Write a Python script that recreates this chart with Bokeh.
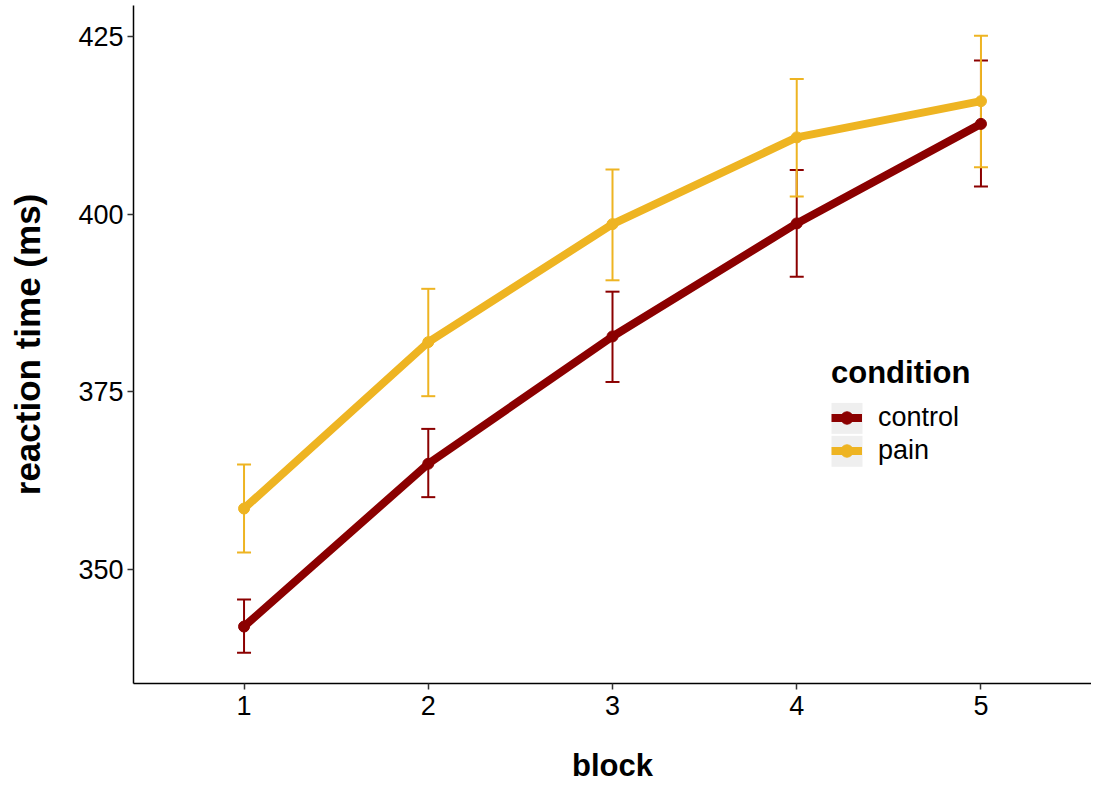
from bokeh.plotting import figure
from bokeh.models import (ColumnDataSource, Whisker, TeeHead, Range1d, FixedTicker,
                          Legend, LegendItem, BoxAnnotation)
from bokeh.embed import file_html
from bokeh.resources import INLINE

# ---- data ----
blocks = [1, 2, 3, 4, 5]
control_mean = [342.0, 364.9, 382.8, 398.7, 412.7]
control_lower = [338.3, 360.2, 376.4, 391.2, 403.9]
control_upper = [345.8, 369.8, 389.1, 406.2, 421.6]
pain_mean = [358.6, 382.0, 398.6, 410.8, 415.9]
pain_lower = [352.4, 374.4, 390.7, 402.5, 406.6]
pain_upper = [364.8, 389.5, 406.3, 419.0, 425.1]
y_ticks = [350, 375, 400, 425]
conditions = ["control", "pain"]

CONTROL_COLOR = "#8B0000"
PAIN_COLOR = "#EEB422"
FONT = "Liberation Sans"

# frame geometry (pixels)
W, H = 1091, 785
BL, BR, BT, BB = 133, 0, 5, 101
X0, X1 = 0.4, 5.6
Y0, Y1 = 333.99, 429.35
fw, fh = W - BL - BR, H - BT - BB


def px_to_x(px):
    return X0 + (px - BL) * (X1 - X0) / fw


def py_to_y(py):
    return Y1 - (py - BT) * (Y1 - Y0) / fh


p = figure(width=W, height=H, output_backend="svg", toolbar_location=None,
           x_range=Range1d(X0, X1), y_range=Range1d(Y0, Y1),
           min_border_left=BL, min_border_right=BR, min_border_top=BT, min_border_bottom=BB)
p.outline_line_color = None
p.xgrid.visible = False
p.ygrid.visible = False
p.background_fill_color = "white"
p.border_fill_color = "white"

src_c = ColumnDataSource(dict(x=blocks, y=control_mean, lo=control_lower, up=control_upper))
src_p = ColumnDataSource(dict(x=blocks, y=pain_mean, lo=pain_lower, up=pain_upper))

for src, col in ((src_c, CONTROL_COLOR), (src_p, PAIN_COLOR)):
    w = Whisker(base="x", lower="lo", upper="up", source=src, dimension="height",
                line_color=col, line_width=2,
                upper_head=TeeHead(size=14, line_color=col, line_width=2),
                lower_head=TeeHead(size=14, line_color=col, line_width=2),
                level="underlay")
    p.add_layout(w)

lc = p.line("x", "y", source=src_c, line_width=8, line_color=CONTROL_COLOR)
lp = p.line("x", "y", source=src_p, line_width=8, line_color=PAIN_COLOR)
pc = p.scatter("x", "y", source=src_c, size=11, fill_color=CONTROL_COLOR, line_color=CONTROL_COLOR)
pp = p.scatter("x", "y", source=src_p, size=11, fill_color=PAIN_COLOR, line_color=PAIN_COLOR)

# legend key backgrounds (grey squares behind the keys)
LEG_LEFT, LEG_TOP_ITEMS, KEY = 831, 402, 33
for i in range(len(conditions)):
    top = LEG_TOP_ITEMS + i * KEY
    p.add_layout(BoxAnnotation(left=px_to_x(LEG_LEFT), right=px_to_x(LEG_LEFT + 31),
                               top=py_to_y(top + 1), bottom=py_to_y(top + KEY - 1),
                               fill_color="#EFEFEF", fill_alpha=1, line_color=None,
                               level="annotation"))

legend = Legend(items=[LegendItem(label=conditions[0], renderers=[lc, pc]),
                       LegendItem(label=conditions[1], renderers=[lp, pp])],
                location=(LEG_LEFT - BL, (H - BB) - (LEG_TOP_ITEMS + 2 * KEY)),
                title="condition",
                title_text_font=FONT, title_text_font_size="31px", title_text_font_style="bold",
                title_text_color="black", title_standoff=10,
                label_text_font=FONT, label_text_font_size="27px", label_text_color="black",
                label_standoff=16, glyph_width=31, glyph_height=KEY, spacing=0,
                padding=0, margin=0, border_line_color=None, background_fill_alpha=0)
p.add_layout(legend)

for ax in (p.xaxis[0], p.yaxis[0]):
    ax.axis_line_color = "black"
    ax.axis_line_width = 1.5
    ax.major_tick_line_color = "#333333"
    ax.major_tick_line_width = 1.5
    ax.major_tick_out = 6
    ax.major_tick_in = 0
    ax.minor_tick_line_color = None
    ax.major_label_text_font = FONT
    ax.major_label_text_font_size = "27px"
    ax.major_label_text_color = "black"
    ax.axis_label_text_font = FONT
    ax.axis_label_text_font_style = "bold"
    ax.axis_label_text_color = "black"

p.xaxis.axis_label_text_font_size = "31px"
p.yaxis.axis_label_text_font_size = "35px"
p.xaxis.ticker = FixedTicker(ticks=blocks)
p.yaxis.ticker = FixedTicker(ticks=y_ticks)
p.xaxis.axis_label = "block"
p.yaxis.axis_label = "reaction time (ms)"
p.xaxis.major_label_standoff = 6
p.xaxis.axis_label_standoff = 30
p.yaxis.major_label_standoff = 4
p.yaxis.axis_label_standoff = 28

open("out.html", "w").write(file_html(p, INLINE))
